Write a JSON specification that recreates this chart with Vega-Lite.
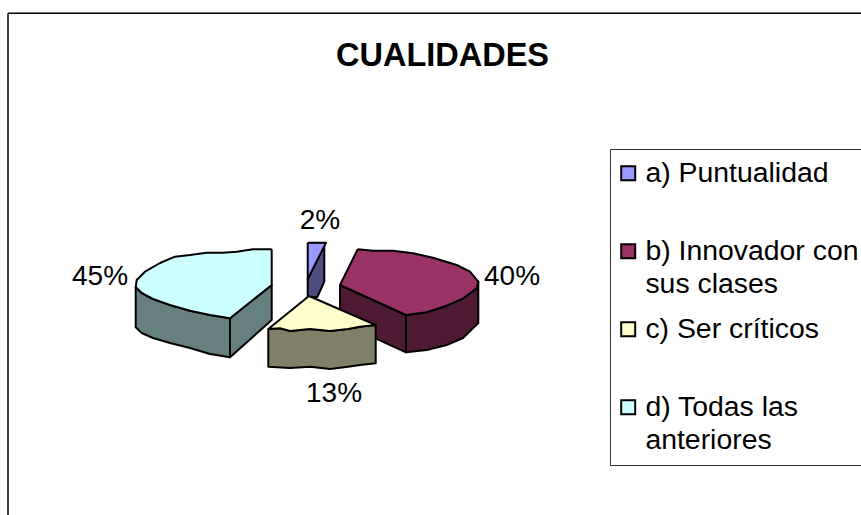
{"$schema":"https://vega.github.io/schema/vega-lite/v6.json","width":861,"height":515,"padding":0,"autosize":{"type":"none"},"background":"white","config":{"view":{"stroke":null},"font":"Liberation Sans"},
"title":{"text":"CUALIDADES","font":"Liberation Sans","fontSize":32.5,"fontWeight":"bold","color":"black","anchor":"middle","orient":"top","offset":0,"dx":12,"dy":98,"baseline":"alphabetic"},
"datasets":{"caras":[
{"serie":"d) Todas las anteriores","parte":"lateral","cara":"d1","orden":1,"x":135.7,"y":287},{"serie":"d) Todas las anteriores","parte":"lateral","cara":"d1","orden":2,"x":141.7,"y":293},{"serie":"d) Todas las anteriores","parte":"lateral","cara":"d1","orden":3,"x":153,"y":299},{"serie":"d) Todas las anteriores","parte":"lateral","cara":"d1","orden":4,"x":170,"y":305},{"serie":"d) Todas las anteriores","parte":"lateral","cara":"d1","orden":5,"x":190,"y":310.7},{"serie":"d) Todas las anteriores","parte":"lateral","cara":"d1","orden":6,"x":210,"y":315},{"serie":"d) Todas las anteriores","parte":"lateral","cara":"d1","orden":7,"x":230,"y":318.3},{"serie":"d) Todas las anteriores","parte":"lateral","cara":"d1","orden":8,"x":230,"y":357.3},{"serie":"d) Todas las anteriores","parte":"lateral","cara":"d1","orden":9,"x":210,"y":354},{"serie":"d) Todas las anteriores","parte":"lateral","cara":"d1","orden":10,"x":190,"y":348},{"serie":"d) Todas las anteriores","parte":"lateral","cara":"d1","orden":11,"x":170,"y":343},{"serie":"d) Todas las anteriores","parte":"lateral","cara":"d1","orden":12,"x":153,"y":338},{"serie":"d) Todas las anteriores","parte":"lateral","cara":"d1","orden":13,"x":141.7,"y":333},{"serie":"d) Todas las anteriores","parte":"lateral","cara":"d1","orden":14,"x":135.7,"y":327.3},{"serie":"d) Todas las anteriores","parte":"lateral","cara":"d1","orden":15,"x":135.7,"y":287},
{"serie":"d) Todas las anteriores","parte":"lateral","cara":"d2","orden":1,"x":230,"y":318.3},{"serie":"d) Todas las anteriores","parte":"lateral","cara":"d2","orden":2,"x":271.7,"y":285},{"serie":"d) Todas las anteriores","parte":"lateral","cara":"d2","orden":3,"x":271.7,"y":320},{"serie":"d) Todas las anteriores","parte":"lateral","cara":"d2","orden":4,"x":230,"y":357.3},{"serie":"d) Todas las anteriores","parte":"lateral","cara":"d2","orden":5,"x":230,"y":318.3},
{"serie":"a) Puntualidad","parte":"lateral","cara":"a1","orden":1,"x":307.7,"y":279.3},{"serie":"a) Puntualidad","parte":"lateral","cara":"a1","orden":2,"x":324.3,"y":245},{"serie":"a) Puntualidad","parte":"lateral","cara":"a1","orden":3,"x":324.3,"y":281.7},{"serie":"a) Puntualidad","parte":"lateral","cara":"a1","orden":4,"x":317.3,"y":297},{"serie":"a) Puntualidad","parte":"lateral","cara":"a1","orden":5,"x":307.7,"y":297},{"serie":"a) Puntualidad","parte":"lateral","cara":"a1","orden":6,"x":307.7,"y":279.3},
{"serie":"b) Innovador con sus clases","parte":"lateral","cara":"b1","orden":1,"x":340,"y":285},{"serie":"b) Innovador con sus clases","parte":"lateral","cara":"b1","orden":2,"x":406,"y":315},{"serie":"b) Innovador con sus clases","parte":"lateral","cara":"b1","orden":3,"x":406,"y":352.3},{"serie":"b) Innovador con sus clases","parte":"lateral","cara":"b1","orden":4,"x":340,"y":322},{"serie":"b) Innovador con sus clases","parte":"lateral","cara":"b1","orden":5,"x":340,"y":285},
{"serie":"b) Innovador con sus clases","parte":"lateral","cara":"b2","orden":1,"x":406,"y":315},{"serie":"b) Innovador con sus clases","parte":"lateral","cara":"b2","orden":2,"x":426.7,"y":312.3},{"serie":"b) Innovador con sus clases","parte":"lateral","cara":"b2","orden":3,"x":446.7,"y":305.7},{"serie":"b) Innovador con sus clases","parte":"lateral","cara":"b2","orden":4,"x":463.3,"y":298.3},{"serie":"b) Innovador con sus clases","parte":"lateral","cara":"b2","orden":5,"x":476.7,"y":288.3},{"serie":"b) Innovador con sus clases","parte":"lateral","cara":"b2","orden":6,"x":478.3,"y":281.7},{"serie":"b) Innovador con sus clases","parte":"lateral","cara":"b2","orden":7,"x":478.3,"y":323},{"serie":"b) Innovador con sus clases","parte":"lateral","cara":"b2","orden":8,"x":463,"y":338},{"serie":"b) Innovador con sus clases","parte":"lateral","cara":"b2","orden":9,"x":446.7,"y":345},{"serie":"b) Innovador con sus clases","parte":"lateral","cara":"b2","orden":10,"x":426.7,"y":350},{"serie":"b) Innovador con sus clases","parte":"lateral","cara":"b2","orden":11,"x":406,"y":352.3},{"serie":"b) Innovador con sus clases","parte":"lateral","cara":"b2","orden":12,"x":406,"y":315},
{"serie":"c) Ser críticos","parte":"lateral","cara":"c1","orden":1,"x":268.3,"y":329},{"serie":"c) Ser críticos","parte":"lateral","cara":"c1","orden":2,"x":280,"y":328.3},{"serie":"c) Ser críticos","parte":"lateral","cara":"c1","orden":3,"x":290,"y":331},{"serie":"c) Ser críticos","parte":"lateral","cara":"c1","orden":4,"x":310,"y":329},{"serie":"c) Ser críticos","parte":"lateral","cara":"c1","orden":5,"x":330,"y":331},{"serie":"c) Ser críticos","parte":"lateral","cara":"c1","orden":6,"x":348,"y":329},{"serie":"c) Ser críticos","parte":"lateral","cara":"c1","orden":7,"x":360,"y":326.7},{"serie":"c) Ser críticos","parte":"lateral","cara":"c1","orden":8,"x":375.7,"y":325},{"serie":"c) Ser críticos","parte":"lateral","cara":"c1","orden":9,"x":375.7,"y":363.3},{"serie":"c) Ser críticos","parte":"lateral","cara":"c1","orden":10,"x":360,"y":365},{"serie":"c) Ser críticos","parte":"lateral","cara":"c1","orden":11,"x":348,"y":366.7},{"serie":"c) Ser críticos","parte":"lateral","cara":"c1","orden":12,"x":330,"y":369},{"serie":"c) Ser críticos","parte":"lateral","cara":"c1","orden":13,"x":310,"y":366.7},{"serie":"c) Ser críticos","parte":"lateral","cara":"c1","orden":14,"x":290,"y":368},{"serie":"c) Ser críticos","parte":"lateral","cara":"c1","orden":15,"x":268.3,"y":366.7},{"serie":"c) Ser críticos","parte":"lateral","cara":"c1","orden":16,"x":268.3,"y":329},
{"serie":"a) Puntualidad","parte":"superior","cara":"a0","orden":1,"x":307.7,"y":242.7},{"serie":"a) Puntualidad","parte":"superior","cara":"a0","orden":2,"x":326,"y":242.7},{"serie":"a) Puntualidad","parte":"superior","cara":"a0","orden":3,"x":307.7,"y":279.3},{"serie":"a) Puntualidad","parte":"superior","cara":"a0","orden":4,"x":307.7,"y":242.7},
{"serie":"b) Innovador con sus clases","parte":"superior","cara":"b0","orden":1,"x":357.7,"y":249.3},{"serie":"b) Innovador con sus clases","parte":"superior","cara":"b0","orden":2,"x":340,"y":285},{"serie":"b) Innovador con sus clases","parte":"superior","cara":"b0","orden":3,"x":406,"y":315},{"serie":"b) Innovador con sus clases","parte":"superior","cara":"b0","orden":4,"x":426.7,"y":312.3},{"serie":"b) Innovador con sus clases","parte":"superior","cara":"b0","orden":5,"x":446.7,"y":305.7},{"serie":"b) Innovador con sus clases","parte":"superior","cara":"b0","orden":6,"x":463.3,"y":298.3},{"serie":"b) Innovador con sus clases","parte":"superior","cara":"b0","orden":7,"x":476.7,"y":288.3},{"serie":"b) Innovador con sus clases","parte":"superior","cara":"b0","orden":8,"x":478.3,"y":281.7},{"serie":"b) Innovador con sus clases","parte":"superior","cara":"b0","orden":9,"x":470,"y":271.7},{"serie":"b) Innovador con sus clases","parte":"superior","cara":"b0","orden":10,"x":456.7,"y":265},{"serie":"b) Innovador con sus clases","parte":"superior","cara":"b0","orden":11,"x":433,"y":257.7},{"serie":"b) Innovador con sus clases","parte":"superior","cara":"b0","orden":12,"x":413,"y":253.3},{"serie":"b) Innovador con sus clases","parte":"superior","cara":"b0","orden":13,"x":393,"y":250.7},{"serie":"b) Innovador con sus clases","parte":"superior","cara":"b0","orden":14,"x":373,"y":250.7},{"serie":"b) Innovador con sus clases","parte":"superior","cara":"b0","orden":15,"x":357.7,"y":249.3},
{"serie":"c) Ser críticos","parte":"superior","cara":"c0","orden":1,"x":309,"y":296},{"serie":"c) Ser críticos","parte":"superior","cara":"c0","orden":2,"x":375.7,"y":325},{"serie":"c) Ser críticos","parte":"superior","cara":"c0","orden":3,"x":360,"y":326.7},{"serie":"c) Ser críticos","parte":"superior","cara":"c0","orden":4,"x":348,"y":329},{"serie":"c) Ser críticos","parte":"superior","cara":"c0","orden":5,"x":330,"y":331},{"serie":"c) Ser críticos","parte":"superior","cara":"c0","orden":6,"x":310,"y":329},{"serie":"c) Ser críticos","parte":"superior","cara":"c0","orden":7,"x":290,"y":331},{"serie":"c) Ser críticos","parte":"superior","cara":"c0","orden":8,"x":280,"y":328.3},{"serie":"c) Ser críticos","parte":"superior","cara":"c0","orden":9,"x":268.3,"y":329},{"serie":"c) Ser críticos","parte":"superior","cara":"c0","orden":10,"x":309,"y":296},
{"serie":"d) Todas las anteriores","parte":"superior","cara":"d0","orden":1,"x":271.7,"y":249.3},{"serie":"d) Todas las anteriores","parte":"superior","cara":"d0","orden":2,"x":271.7,"y":285},{"serie":"d) Todas las anteriores","parte":"superior","cara":"d0","orden":3,"x":230,"y":318.3},{"serie":"d) Todas las anteriores","parte":"superior","cara":"d0","orden":4,"x":210,"y":315},{"serie":"d) Todas las anteriores","parte":"superior","cara":"d0","orden":5,"x":190,"y":310.7},{"serie":"d) Todas las anteriores","parte":"superior","cara":"d0","orden":6,"x":170,"y":305},{"serie":"d) Todas las anteriores","parte":"superior","cara":"d0","orden":7,"x":153,"y":299},{"serie":"d) Todas las anteriores","parte":"superior","cara":"d0","orden":8,"x":141.7,"y":293},{"serie":"d) Todas las anteriores","parte":"superior","cara":"d0","orden":9,"x":135.7,"y":287},{"serie":"d) Todas las anteriores","parte":"superior","cara":"d0","orden":10,"x":136.7,"y":280},{"serie":"d) Todas las anteriores","parte":"superior","cara":"d0","orden":11,"x":145,"y":271.7},{"serie":"d) Todas las anteriores","parte":"superior","cara":"d0","orden":12,"x":160,"y":263},{"serie":"d) Todas las anteriores","parte":"superior","cara":"d0","orden":13,"x":175,"y":256.7},{"serie":"d) Todas las anteriores","parte":"superior","cara":"d0","orden":14,"x":190,"y":255},{"serie":"d) Todas las anteriores","parte":"superior","cara":"d0","orden":15,"x":206.7,"y":252.7},{"serie":"d) Todas las anteriores","parte":"superior","cara":"d0","orden":16,"x":223,"y":252.7},{"serie":"d) Todas las anteriores","parte":"superior","cara":"d0","orden":17,"x":236.7,"y":251.7},{"serie":"d) Todas las anteriores","parte":"superior","cara":"d0","orden":18,"x":253,"y":249.3},{"serie":"d) Todas las anteriores","parte":"superior","cara":"d0","orden":19,"x":271.7,"y":249.3}
],
"etiquetas":[{"texto":"2%","x":320,"y":221},{"texto":"40%","x":512,"y":277},{"texto":"13%","x":334,"y":394},{"texto":"45%","x":100,"y":277}],
"marco":[{"x":8,"y":13.3,"x2":861,"y2":13.3},{"x":8,"y":13.3,"x2":8,"y2":515}]},
"layer":[
{"data":{"name":"marco"},"mark":{"type":"rule","color":"black","strokeWidth":1.5},"encoding":{"x":{"field":"x","type":"quantitative","scale":{"domain":[0,861]},"axis":null},"y":{"field":"y","type":"quantitative","scale":{"domain":[515,0]},"axis":null},"x2":{"field":"x2"},"y2":{"field":"y2"}}},
{"data":{"name":"caras"},"transform":[{"filter":"datum.parte=='lateral'"}],"mark":{"type":"line","stroke":"black","strokeWidth":2,"strokeJoin":"round","clip":false},"encoding":{"x":{"field":"x","type":"quantitative","scale":{"domain":[0,861]},"axis":null},"y":{"field":"y","type":"quantitative","scale":{"domain":[515,0]},"axis":null},"order":{"field":"orden","type":"quantitative"},"detail":{"field":"cara"},"fill":{"field":"serie","type":"nominal","legend":null,"scale":{"domain":["a) Puntualidad","b) Innovador con sus clases","c) Ser críticos","d) Todas las anteriores"],"range":["#4D4D80","#4D1933","#808066","#668080"]}}}},
{"data":{"name":"caras"},"transform":[{"filter":"datum.parte=='superior'"}],"mark":{"type":"line","stroke":"black","strokeWidth":2,"strokeJoin":"round"},"encoding":{"x":{"field":"x","type":"quantitative","scale":{"domain":[0,861]},"axis":null},"y":{"field":"y","type":"quantitative","scale":{"domain":[515,0]},"axis":null},"order":{"field":"orden","type":"quantitative"},"detail":{"field":"cara"},"fill":{"field":"serie","type":"nominal","scale":{"domain":["a) Puntualidad","b) Innovador con sus clases","c) Ser críticos","d) Todas las anteriores"],"range":["#9999FF","#993366","#FFFFCC","#CCFFFF"]},"legend":{"title":null,"orient":"none","legendX":610,"legendY":149,"padding":10,"strokeColor":"#333333","fillColor":"white","symbolType":"square","symbolSize":196,"symbolStrokeColor":"black","symbolStrokeWidth":2,"symbolOffset":-6,"labelFont":"Liberation Sans","labelFontSize":28.4,"labelColor":"black","labelLimit":400,"labelOffset":3,"rowPadding":16,"labelBaseline":"alphabetic","labelExpr":"datum.label=='b) Innovador con sus clases'?['b) Innovador con','sus clases']:datum.label=='d) Todas las anteriores'?['d) Todas las','anteriores']:[datum.label,' ']","encoding":{"labels":{"lineHeight":{"value":33},"dy":{"value":9}}}}}}},
{"data":{"name":"etiquetas"},"mark":{"type":"text","font":"Liberation Sans","fontSize":28,"color":"black","baseline":"middle","align":"center"},"encoding":{"x":{"field":"x","type":"quantitative","scale":{"domain":[0,861]},"axis":null},"y":{"field":"y","type":"quantitative","scale":{"domain":[515,0]},"axis":null},"text":{"field":"texto"}}}
],
"resolve":{"scale":{"fill":"independent"},"legend":{"fill":"independent"}}}
